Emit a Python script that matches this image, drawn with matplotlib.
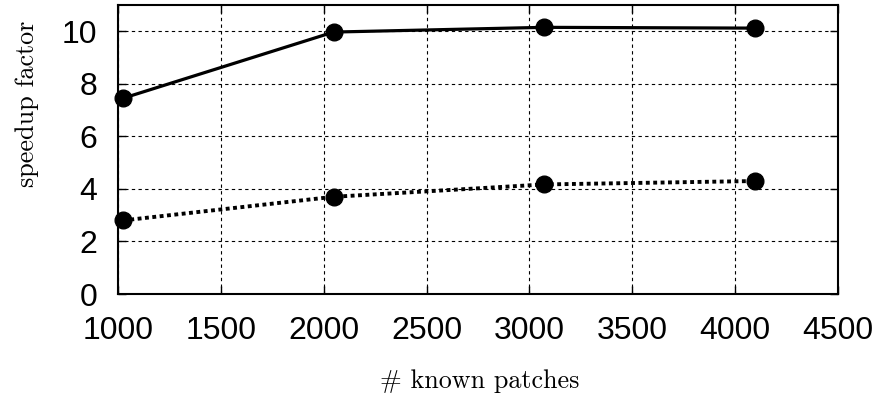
import matplotlib
matplotlib.use("Agg")
import matplotlib.pyplot as plt

patches = [1024, 2048, 3072, 4096]
speedup_solid = [7.45, 9.97, 10.15, 10.12]
speedup_dotted = [2.8, 3.7, 4.17, 4.3]
xticks = [1000, 1500, 2000, 2500, 3000, 3500, 4000, 4500]
yticks = [0, 2, 4, 6, 8, 10]

W, H = 886, 405
fig = plt.figure(figsize=(W/100, H/100), dpi=100)
ax = fig.add_axes([118/W, 1-294/H, (838-118)/W, (294-5)/H])

ax.plot(patches, speedup_solid, color='black', lw=2.3, ls='-',
        marker='o', ms=12, zorder=3, clip_on=False)
ax.plot(patches, speedup_dotted, color='black', lw=2.8, ls=(0, (1, 0.9)),
        marker='o', ms=12, zorder=3, clip_on=False)

ax.set_xlim(1000, 4500)
ax.set_ylim(0, 11)
ax.set_xticks(xticks)
ax.set_yticks(yticks)
ax.grid(True, color='black', lw=0.8, ls=(0, (3, 3)))
ax.tick_params(direction='in', length=6, width=1, top=True, right=True,
               labelsize=23)
ax.tick_params(axis='x', pad=16)
ax.tick_params(axis='y', pad=15)
for lab in ax.get_xticklabels() + ax.get_yticklabels():
    lab.set_family('Liberation Sans')
for s in ax.spines.values():
    s.set_linewidth(1.5)

lab_font = ['cmr10', 'DejaVu Serif']
fig.text(480/W, 1-388/H, '# known patches', family=lab_font, fontsize=18.8,
         ha='center', va='baseline')
fig.text(27/W, 1-187/H, 'speedup factor', family=lab_font, fontsize=18.8,
         ha='center', va='bottom', rotation=90)

fig.savefig('out.png', dpi=100)
